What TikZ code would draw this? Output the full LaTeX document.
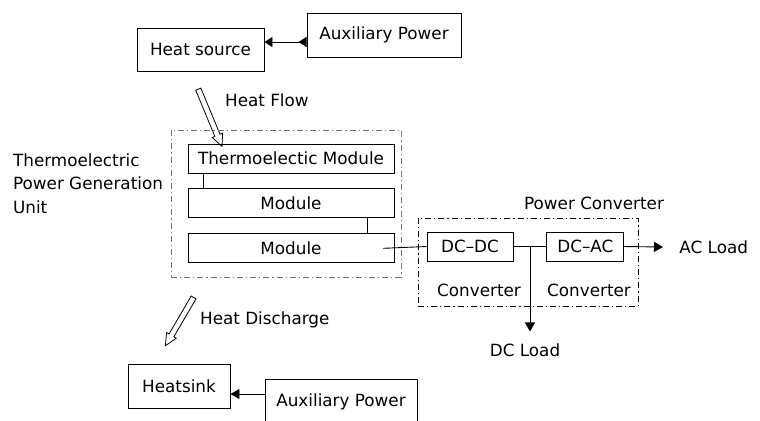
\documentclass[tikz,border=0pt]{standalone}
\usepackage{fontspec}
\setmainfont{DejaVu Sans}
\usepackage{tikz}
\usetikzlibrary{arrows.meta, positioning, shapes.arrows}

\begin{document}
\begin{tikzpicture}[
    x=0.5pt, y=-0.5pt,
    node distance=7.5pt,
    font=\fontsize{8.4}{11.75}\selectfont,
    line width=0.45pt,
    box/.style={rectangle, draw, inner sep=0pt, minimum height=14.5pt, align=center},
    unitbox/.style={rectangle, draw=black!55, inner sep=0pt, dash pattern=on 3pt off 1.5pt on 0.6pt off 1.5pt},
    convbox/.style={rectangle, draw, inner sep=0pt, dash pattern=on 3pt off 1.5pt on 0.6pt off 1.5pt},
    heatarrow/.style={single arrow, draw, line width=0.4pt, inner sep=1.2pt, single arrow head extend=1.4pt, single arrow tip angle=50, single arrow head indent=0pt},
    arrow/.style={-{Triangle[length=4.5pt, width=5pt]}}
]
\useasboundingbox (0,0) rectangle (760,420);

% heat source side
\node[box, minimum width=63.5pt, minimum height=21.5pt] (heatsrc) at (200.5,49.5) {Heat source};
\node[box, minimum width=77pt, minimum height=22pt] (auxtop) at (384,35) {Auxiliary Power};

\node[heatarrow, minimum height=31pt, rotate=-67.5] (flow) at (209,115) {};
\node[anchor=west] (flowlbl) at (218,100) {Heat Flow};

% generation unit
\node[unitbox, minimum width=115pt, minimum height=73.5pt] (teg) at (286,203.5) {};
\node[box, minimum width=103pt] (tm) at (291,158.5) {Thermoelectic Module};
\node[box, minimum width=103pt, below=of tm] (mod1) {Module};
\node[box, minimum width=103pt, below=of mod1] (mod2) {Module};
\node[anchor=west, align=left] (teglbl) at (6,183.5) {Thermoelectric\\Power Generation\\Unit};

% power converter
\node[convbox, minimum width=110pt, minimum height=44pt] (pc) at (528,262) {};
\node[anchor=west] (pclbl) at (517,203) {Power Converter};
\node[box, minimum width=43pt] (dcdc) at (470,246.5) {DC--DC};
\node[box, minimum width=38.5pt, right=16.5pt of dcdc] (dcac) {DC--AC};
\node (conv1) at (479,290) {Converter};
\node (conv2) at (589,290) {Converter};
\coordinate (jct) at (530,246.5);
\node[inner ysep=5.8pt] (dcload) at (525,350) {DC Load};
\node[anchor=west, inner xsep=8pt] (acload) at (663,247) {AC Load};

% heatsink side
\node[heatarrow, minimum height=28pt, rotate=-120.3] (discharge) at (181,319) {};
\node[anchor=west] (dischlbl) at (193,320) {Heat Discharge};
\node[box, minimum width=51pt, minimum height=22pt] (heatsink) at (179,386) {Heatsink};
\node[box, minimum width=76pt, minimum height=22.5pt] (auxbot) at (341,401.5) {Auxiliary Power};

% connections
\draw[{Triangle[length=4pt, width=5pt, reversed]}-{Triangle[length=4pt, width=5pt]}] ([yshift=-3.5pt]auxtop.west) -- ([yshift=3.75pt]heatsrc.east);
\draw ([xshift=8pt]tm.south west) -- ([xshift=8pt]mod1.north west);
\draw ([xshift=-13.5pt]mod1.south east) -- ([xshift=-13.5pt]mod2.north east);
\draw ([xshift=-5.5pt]mod2.east) -- (dcdc.west);
\draw (dcdc.east) -- (dcac.west);
\draw[arrow] (jct) -- (jct |- dcload.north);
\draw[arrow] (dcac.east) -- (acload.west);
\draw[arrow] ([yshift=3.75pt]auxbot.west) -- ([yshift=-4pt]heatsink.east);
\end{tikzpicture}
\end{document}
